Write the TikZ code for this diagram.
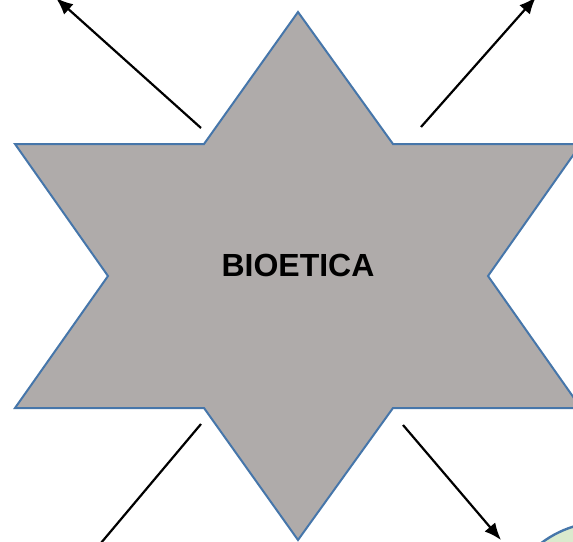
\documentclass[tikz,border=0pt]{standalone}
\usepackage{fontspec}
\setmainfont{Liberation Sans}
\usetikzlibrary{arrows.meta,positioning}
\definecolor{stargray}{RGB}{175,171,170}
\definecolor{starblue}{RGB}{70,118,170}
\definecolor{circlegreen}{RGB}{218,234,205}

\begin{document}
\begin{tikzpicture}[x=1pt,y=-1pt,
  starshape/.style = {draw=starblue, fill=stargray, line width=2pt, line join=miter},
  pointer/.style = {draw=black, line width=2.2pt, -{Latex[length=17pt,width=14pt]}},
  label/.style = {font=\fontsize{32}{36}\selectfont\bfseries, inner sep=0pt}]
  \useasboundingbox (0,0) rectangle (573,541);
  \clip (0,0) rectangle (573,541);

  % circle at the lower right
  \draw[draw=starblue, fill=circlegreen, line width=2.4pt] (604,626) circle (104);

  % the star
  \draw[starshape] (298,12) -- (393,144) -- (581,144) -- (488,276)
    -- (581,408) -- (393,408) -- (298,540) -- (204,408) -- (15,408)
    -- (108,276) -- (15,144) -- (204,144) -- cycle;
  \node[label] (bio) at (298,265) {BIOETICA};

  % arrows
  \coordinate (ulstart) at (201,128);
  \coordinate (ulend) at (56,-2);
  \coordinate (urstart) at (421,127);
  \coordinate (urend) at (536,-3);
  \coordinate (llstart) at (201,424);
  \coordinate (llend) at (85,562);
  \coordinate (lrstart) at (403,425);
  \coordinate (lrend) at (501,540);
  \draw[pointer] (ulstart) -- (ulend);
  \draw[pointer] (urstart) -- (urend);
  \draw[pointer] (llstart) -- (llend);
  \draw[pointer] (lrstart) -- (lrend);
\end{tikzpicture}
\end{document}
